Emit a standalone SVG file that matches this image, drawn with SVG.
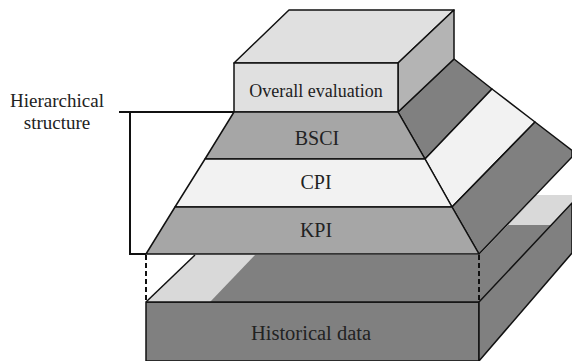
<svg xmlns="http://www.w3.org/2000/svg" width="572" height="361" viewBox="0 0 572 361">
<style>
.e{stroke:#111;stroke-width:1.5;stroke-linejoin:round}
.t{font-family:"Liberation Serif","Times New Roman",serif;fill:#222;text-anchor:middle}
.lt{fill:#e0e0e0}.md{fill:#b4b4b4}.gr{fill:#a6a6a6}.wh{fill:#f2f2f2}.dk{fill:#808080}.lg{fill:#d9d9d9}
.c{fill:none;stroke:#111;stroke-width:2}
</style>
<rect width="572" height="361" fill="#ffffff"/>
<g id="historical">
<polygon class="dk e" points="146,302 479,302 479,361 146,361"/>
<polygon class="dk" points="146,302 195,255 479,255 479,302"/>
<polygon class="lg" points="146,302 195,255 255,255 210,302"/>
<line class="e" x1="146" y1="302" x2="195" y2="255"/>
<polygon class="dk" points="479,255 537,195 572,195 572,203 479,302"/>
<polygon class="lg" points="508,225 537,195 572,195 572,203 551,225"/>
<polygon class="dk e" points="479,302 572,203 572,253 479,361"/>
<line class="e" x1="146" y1="302" x2="479" y2="302"/>
<text class="t" x="311" y="340" font-size="20.5">Historical data</text>
</g>
<g id="side">
<polygon class="dk e" points="398,112 454,59 492,89 425,159"/>
<polygon class="wh e" points="425,159 492,89 535,122 452,207"/>
<polygon class="dk e" points="452,207 535,122 572,150.5 572,157 479,254"/>
</g>
<g id="overall">
<polygon class="lt e" points="234,63 289,10 454,10 398,63"/>
<polygon class="md e" points="398,63 454,10 454,59 398,112"/>
<rect class="lt e" x="234" y="63" width="164" height="49"/>
<text class="t" x="316" y="97" font-size="18">Overall evaluation</text>
</g>
<g id="bsci">
<polygon class="gr e" points="234,112 398,112 425,159 205,159"/>
<text class="t" x="317" y="145" font-size="20">BSCI</text>
</g>
<g id="cpi">
<polygon class="wh e" points="205,159 425,159 452,207 175,207"/>
<text class="t" x="316" y="189" font-size="20">CPI</text>
</g>
<g id="kpi">
<polygon class="gr e" points="175,207 452,207 479,254 146,254"/>
<text class="t" x="316" y="237" font-size="20">KPI</text>
</g>
<g id="label">
<text class="t" x="57" y="107" font-size="19">Hierarchical</text>
<text class="t" x="57" y="129" font-size="19">structure</text>
</g>
<g id="connectors">
<polyline class="c" points="119,112 234,112"/>
<polyline class="c" points="130,112 130,254 146,254"/>
<line class="c" x1="146" y1="255" x2="146" y2="302" stroke-dasharray="5,3"/>
<line class="c" x1="479" y1="255" x2="479" y2="302" stroke-dasharray="5,3"/>
</g>
</svg>
